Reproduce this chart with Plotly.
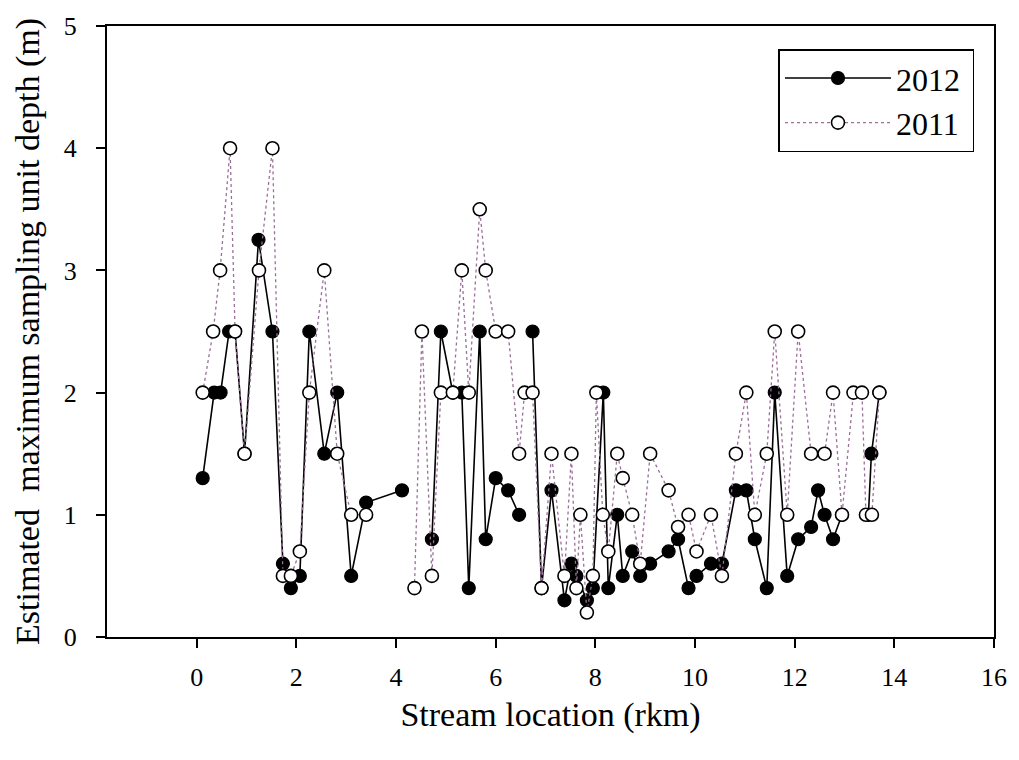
import plotly.graph_objects as go

# 2012 survey (filled circles, solid line); None marks a gap in the line
x_2012 = [0.12, 0.35, 0.48, 0.65, 0.77, 0.96, 1.24, 1.52, 1.73, 1.89, 2.07, 2.26, 2.56, 2.82, 3.10, 3.40, 4.12,
          None,
          4.72, 4.90, 5.14, 5.32, 5.46, 5.68, 5.80, 6.00, 6.25, 6.47,
          None,
          6.74, 6.92, 7.12, 7.38, 7.52, 7.62, 7.83, 7.95, 8.16, 8.26, 8.44, 8.55, 8.74, 8.90, 9.10, 9.47,
          9.66, 9.87, 10.03, 10.32, 10.54, 10.82, 11.03, 11.20, 11.44, 11.60, 11.85, 12.07, 12.33, 12.47,
          12.60, 12.77, 12.95,
          None,
          13.48, 13.54, 13.70]
y_2012 = [1.3, 2.0, 2.0, 2.5, 2.5, 1.5, 3.25, 2.5, 0.6, 0.4, 0.5, 2.5, 1.5, 2.0, 0.5, 1.1, 1.2,
          None,
          0.8, 2.5, 2.0, 2.0, 0.4, 2.5, 0.8, 1.3, 1.2, 1.0,
          None,
          2.5, 0.4, 1.2, 0.3, 0.6, 0.5, 0.3, 0.4, 2.0, 0.4, 1.0, 0.5, 0.7, 0.5, 0.6, 0.7,
          0.8, 0.4, 0.5, 0.6, 0.6, 1.2, 1.2, 0.8, 0.4, 2.0, 0.5, 0.8, 0.9, 1.2,
          1.0, 0.8, 1.0,
          None,
          1.0, 1.5, 2.0]

# 2011 survey (open circles, dotted line)
x_2011 = [0.12, 0.33, 0.47, 0.67, 0.77, 0.96, 1.25, 1.52, 1.73, 1.89, 2.07, 2.26, 2.56, 2.82, 3.10, 3.40,
          None,
          4.37, 4.52, 4.72, 4.90, 5.14, 5.32, 5.46, 5.68, 5.80, 6.00, 6.25, 6.47, 6.58, 6.74, 6.92, 7.12,
          7.38, 7.52, 7.62, 7.70, 7.83, 7.95, 8.02, 8.15, 8.26, 8.44, 8.55, 8.74, 8.90, 9.10, 9.47, 9.66,
          9.87, 10.03, 10.32, 10.54, 10.82, 11.03, 11.20, 11.44, 11.60, 11.85, 12.07, 12.33, 12.60, 12.77,
          12.95, 13.18, 13.35, 13.43, 13.55, 13.70]
y_2011 = [2.0, 2.5, 3.0, 4.0, 2.5, 1.5, 3.0, 4.0, 0.5, 0.5, 0.7, 2.0, 3.0, 1.5, 1.0, 1.0,
          None,
          0.4, 2.5, 0.5, 2.0, 2.0, 3.0, 2.0, 3.5, 3.0, 2.5, 2.5, 1.5, 2.0, 2.0, 0.4, 1.5,
          0.5, 1.5, 0.4, 1.0, 0.2, 0.5, 2.0, 1.0, 0.7, 1.5, 1.3, 1.0, 0.6, 1.5, 1.2, 0.9,
          1.0, 0.7, 1.0, 0.5, 1.5, 2.0, 1.0, 1.5, 2.5, 1.0, 2.5, 1.5, 1.5, 2.0,
          1.0, 2.0, 2.0, 1.0, 1.0, 2.0]

x_ticks = [0, 2, 4, 6, 8, 10, 12, 14, 16]
y_ticks = [0, 1, 2, 3, 4, 5]

FONT = "Liberation Serif, Times New Roman, serif"

fig = go.Figure()
fig.add_trace(go.Scatter(
    x=x_2012, y=y_2012, name="2012\u00a0", mode="lines+markers",
    line=dict(color="black", width=1.6),
    marker=dict(symbol="circle", size=13, color="black", line=dict(color="black", width=1.2)),
))
fig.add_trace(go.Scatter(
    x=x_2011, y=y_2011, name="2011\u00a0", mode="lines+markers",
    line=dict(color="#9a6f9a", width=1.3, dash="dot"),
    marker=dict(symbol="circle", size=13, color="white", line=dict(color="black", width=1.6)),
))

fig.update_layout(
    width=1019, height=760,
    margin=dict(l=107, r=21, t=17, b=123),
    paper_bgcolor="white", plot_bgcolor="white",
    font=dict(family=FONT, color="black"),
    showlegend=True,
    legend=dict(
        x=0.978, y=0.962, xanchor="right", yanchor="top",
        font=dict(size=32, family=FONT, color="black"),
        bordercolor="black", borderwidth=1.5, bgcolor="white",
        itemwidth=106, tracegroupgap=0,
    ),
    xaxis=dict(
        range=[-1.8, 16], tickmode="array", tickvals=x_ticks,
        ticks="outside", ticklen=9, tickwidth=1.5, tickcolor="black",
        showline=True, linecolor="black", linewidth=2, mirror=True,
        showgrid=False, zeroline=False,
        tickfont=dict(size=26, family=FONT),
        ticklabelstandoff=7,
        title=dict(text="Stream location (rkm)", font=dict(size=34, family=FONT), standoff=11),
    ),
    yaxis=dict(
        range=[0, 5], tickmode="array", tickvals=y_ticks,
        ticks="outside", ticklen=9, tickwidth=1.5, tickcolor="black",
        showline=True, linecolor="black", linewidth=2, mirror=True,
        showgrid=False, zeroline=False,
        tickfont=dict(size=26, family=FONT),
        ticklabelstandoff=14,
        title=dict(text="Estimated  maximum sampling unit depth (m)", font=dict(size=34, family=FONT), standoff=14),
    ),
)

fig.write_html("out.html")
